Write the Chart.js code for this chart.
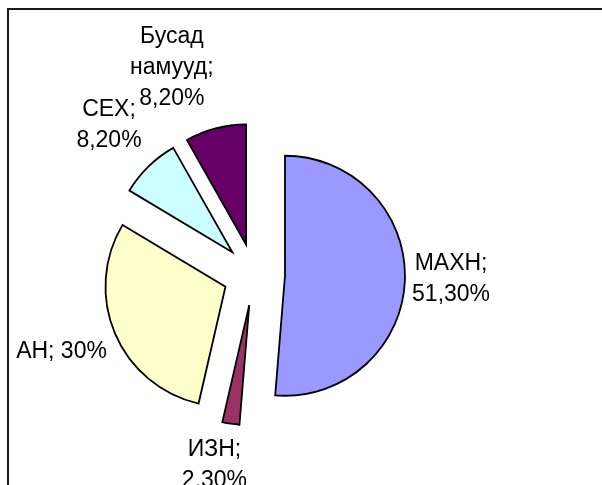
<!DOCTYPE html>
<html>
<head>
<meta charset="utf-8">
<script src="https://cdn.jsdelivr.net/npm/chart.js@4.4.1/dist/chart.umd.min.js"></script>
<style>
  html, body { margin: 0; padding: 0; background: #fff; }
  #wrap { position: relative; width: 602px; height: 485px; }
</style>
</head>
<body>
<div id="wrap"><canvas id="pie"></canvas></div>
<script>
let parties = ['МАХН', 'ИЗН', 'АН', 'СЕХ', 'Бусад намууд'];
let shares = [51.3, 2.3, 30, 8.2, 8.2];
let colorsX = ['#9999FF', '#993366', '#FFFFCC', '#CCFFFF', '#660066'];

function fmt(v) {
    // excel shows 30% but 51,30%
    return Number.isInteger(v) ? v + '%' : v.toFixed(2).replace('.', ',') + '%';
}

function wrap(ctx, text, maxW) {
    let words = text.split(' ');
    let lines = [];
    let cur = '';
    for (var i = 0; i < words.length; i++) {
        let t = cur ? cur + ' ' + words[i] : words[i];
        if (cur && ctx.measureText(t).width > maxW) {
            lines.push(cur);
            cur = words[i];
        } else {
            cur = t;
        }
    }
    lines.push(cur);
    return lines;
}

// white page + the frame line on left/top
const frame = {
    id: 'frame',
    beforeDraw(chart) {
        let ctx = chart.ctx;
        ctx.save();
        ctx.fillStyle = '#fff';
        ctx.fillRect(0, 0, chart.width, chart.height);
        ctx.fillStyle = '#1a1a1a';
        ctx.fillRect(7, 8, 2, chart.height - 8);
        ctx.fillRect(7, 8, chart.width - 7, 2);
        ctx.restore();
    }
};

// draw every slice pulled out from the centre
const explode = {
    id: 'explode',
    beforeDatasetDraw(chart, args, opts) {
        let ctx = chart.ctx;
        args.meta.data.forEach(arc => {
            let mid = (arc.startAngle + arc.endAngle) / 2;
            ctx.save();
            ctx.translate(Math.cos(mid) * opts.distance, Math.sin(mid) * opts.distance);
            arc.draw(ctx);
            ctx.restore();
        });
        return false;
    }
};

const sliceLabels = {
    id: 'sliceLabels',
    afterDatasetsDraw(chart, args, opts) {
        let ctx = chart.ctx;
        let arcs = chart.getDatasetMeta(0).data;
        let dist0 = chart.options.plugins.explode.distance;
        ctx.save();
        ctx.font = opts.font;
        ctx.fillStyle = '#000';
        ctx.textAlign = 'center';
        ctx.textBaseline = 'middle';
        arcs.forEach((arc, i) => {
            let mid = (arc.startAngle + arc.endAngle) / 2;
            let dx = Math.cos(mid), dy = Math.sin(mid);
            let lines = wrap(ctx, parties[i] + '; ' + fmt(shares[i]), opts.maxWidth);
            let w = Math.max(...lines.map(l => ctx.measureText(l).width));
            let h = lines.length * opts.lineHeight;
            let push = Math.abs(dx) * w / 2 + Math.abs(dy) * h / 2;
            let d = arc.outerRadius + dist0 + opts.gap + push;
            let n = opts.nudge[i] || [0, 0];
            let cx = arc.x + dx * d + n[0];
            let cy = arc.y + dy * d + n[1];
            lines.forEach((l, k) => {
                ctx.fillText(l, cx, cy - h / 2 + opts.lineHeight * (k + 0.5));
            });
        });
        ctx.restore();
    }
};

let myPie = document.getElementById('pie').getContext('2d');

let pieChart = new Chart(myPie, {
    type: 'pie',
    data: {
        labels: parties,
        datasets: [{
            data: shares,
            backgroundColor: colorsX,
            borderColor: '#000',
            borderWidth: 1.8,
            borderJoinStyle: 'miter'
        }]
    },
    options: {
        responsive: true,
        maintainAspectRatio: false,
        animation: false,
        events: [],
        radius: 120,
        layout: { padding: { left: 10, right: 104, top: 74, bottom: 10 } },
        plugins: {
            legend: { display: false },
            tooltip: { enabled: false },
            explode: { distance: 31 },
            sliceLabels: {
                font: '23px "Liberation Sans", Arial, sans-serif',
                lineHeight: 31,
                maxWidth: 95,
                gap: 6,
                nudge: [[0, -3], [-10, 0], [-4, -3], [-4, -5], [-28, -1]]
            }
        }
    },
    plugins: [frame, explode, sliceLabels]
});
</script>
</body>
</html>
